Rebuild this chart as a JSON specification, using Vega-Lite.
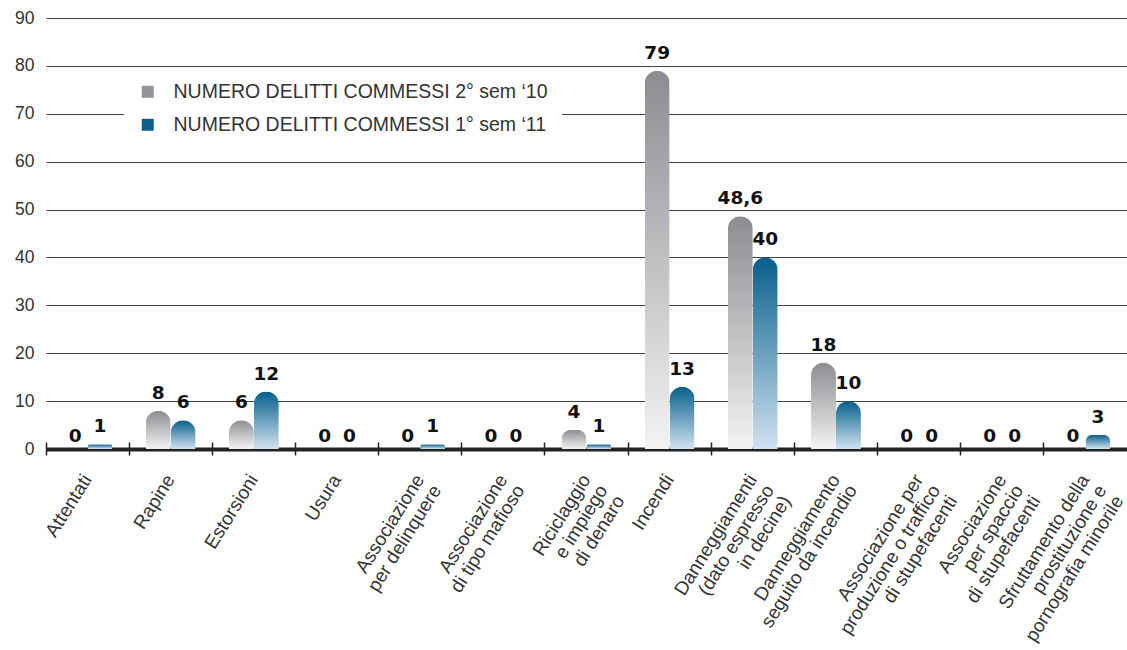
{
  "$schema": "https://vega.github.io/schema/vega-lite/v6.json",
  "width": 1081,
  "height": 431,
  "autosize": {"type": "none"},
  "padding": {"left": 46, "top": 18, "right": 0, "bottom": 201},
  "background": "white",
  "config": {
    "view": {"stroke": null},
    "locale": {"number": {"decimal": ",", "thousands": ".", "grouping": [3], "currency": ["€", ""]}}
  },
  "data": {
    "values": [
      {"cat": "Attentati", "serie": "NUMERO DELITTI COMMESSI 2° sem ‘10", "v": 0},
      {"cat": "Attentati", "serie": "NUMERO DELITTI COMMESSI 1° sem ‘11", "v": 1},
      {"cat": "Rapine", "serie": "NUMERO DELITTI COMMESSI 2° sem ‘10", "v": 8},
      {"cat": "Rapine", "serie": "NUMERO DELITTI COMMESSI 1° sem ‘11", "v": 6},
      {"cat": "Estorsioni", "serie": "NUMERO DELITTI COMMESSI 2° sem ‘10", "v": 6},
      {"cat": "Estorsioni", "serie": "NUMERO DELITTI COMMESSI 1° sem ‘11", "v": 12},
      {"cat": "Usura", "serie": "NUMERO DELITTI COMMESSI 2° sem ‘10", "v": 0},
      {"cat": "Usura", "serie": "NUMERO DELITTI COMMESSI 1° sem ‘11", "v": 0},
      {"cat": "Associazione\nper delinquere", "serie": "NUMERO DELITTI COMMESSI 2° sem ‘10", "v": 0},
      {"cat": "Associazione\nper delinquere", "serie": "NUMERO DELITTI COMMESSI 1° sem ‘11", "v": 1},
      {"cat": "Associazione\ndi tipo mafioso", "serie": "NUMERO DELITTI COMMESSI 2° sem ‘10", "v": 0},
      {"cat": "Associazione\ndi tipo mafioso", "serie": "NUMERO DELITTI COMMESSI 1° sem ‘11", "v": 0},
      {"cat": "Riciclaggio\ne impiego\ndi denaro", "serie": "NUMERO DELITTI COMMESSI 2° sem ‘10", "v": 4},
      {"cat": "Riciclaggio\ne impiego\ndi denaro", "serie": "NUMERO DELITTI COMMESSI 1° sem ‘11", "v": 1},
      {"cat": "Incendi", "serie": "NUMERO DELITTI COMMESSI 2° sem ‘10", "v": 79},
      {"cat": "Incendi", "serie": "NUMERO DELITTI COMMESSI 1° sem ‘11", "v": 13},
      {"cat": "Danneggiamenti\n(dato espresso\nin decine)", "serie": "NUMERO DELITTI COMMESSI 2° sem ‘10", "v": 48.6},
      {"cat": "Danneggiamenti\n(dato espresso\nin decine)", "serie": "NUMERO DELITTI COMMESSI 1° sem ‘11", "v": 40},
      {"cat": "Danneggiamento\nseguito da incendio", "serie": "NUMERO DELITTI COMMESSI 2° sem ‘10", "v": 18},
      {"cat": "Danneggiamento\nseguito da incendio", "serie": "NUMERO DELITTI COMMESSI 1° sem ‘11", "v": 10},
      {"cat": "Associazione per\nproduzione o traffico\ndi stupefacenti", "serie": "NUMERO DELITTI COMMESSI 2° sem ‘10", "v": 0},
      {"cat": "Associazione per\nproduzione o traffico\ndi stupefacenti", "serie": "NUMERO DELITTI COMMESSI 1° sem ‘11", "v": 0},
      {"cat": "Associazione\nper spaccio\ndi stupefacenti", "serie": "NUMERO DELITTI COMMESSI 2° sem ‘10", "v": 0},
      {"cat": "Associazione\nper spaccio\ndi stupefacenti", "serie": "NUMERO DELITTI COMMESSI 1° sem ‘11", "v": 0},
      {"cat": "Sfruttamento della\nprostituzione e\npornografia minorile", "serie": "NUMERO DELITTI COMMESSI 2° sem ‘10", "v": 0},
      {"cat": "Sfruttamento della\nprostituzione e\npornografia minorile", "serie": "NUMERO DELITTI COMMESSI 1° sem ‘11", "v": 3}
    ]
  },
  "encoding": {
    "x": {"field": "cat", "type": "nominal", "sort": null, "scale": {"paddingInner": 0, "paddingOuter": 0}},
    "xOffset": {"field": "serie", "type": "nominal", "sort": null, "scale": {"domain": ["NUMERO DELITTI COMMESSI 2° sem ‘10", "NUMERO DELITTI COMMESSI 1° sem ‘11"], "paddingInner": 0, "paddingOuter": 0.667}},
    "y": {"field": "v", "type": "quantitative", "scale": {"domain": [0, 90], "nice": false}}
  },
  "layer": [
    {
      "transform": [{"filter": "datum.serie == 'NUMERO DELITTI COMMESSI 2° sem ‘10'"}],
      "mark": {"type": "bar", "cornerRadiusTopLeft": 12.5, "cornerRadiusTopRight": 12.5,
        "color": {"gradient": "linear", "x1": 0, "y1": 0, "x2": 0, "y2": 1, "stops": [{"offset": 0, "color": "#8c8d91"}, {"offset": 1, "color": "#f3f3f4"}]}},
      "encoding": {
        "x": {"field": "cat", "type": "nominal", "sort": null, "title": null,
          "axis": {"orient": "bottom", "labelAngle": -58, "labelAlign": "right", "labelBaseline": "top", "labelPadding": 22, "labelOffset": -8, "ticks": false, "tickSize": 0,
            "labelExpr": "split(datum.label, '\\n')", "labelFont": "Liberation Sans", "labelFontSize": 19, "labelColor": "#333333", "labelLineHeight": 20,
            "domain": true, "domainColor": "#222222", "domainWidth": 4, "grid": false, "labelLimit": 0}},
        "y": {"field": "v", "type": "quantitative", "title": null,
          "axis": {"values": [0, 10, 20, 30, 40, 50, 60, 70, 80, 90], "domain": false, "ticks": false, "grid": true, "gridColor": "#444444", "gridWidth": 1,
            "labelFont": "Liberation Sans", "labelFontSize": 17.5, "labelColor": "#333333", "labelPadding": 12}}
      }
    },
    {
      "transform": [{"filter": "datum.serie == 'NUMERO DELITTI COMMESSI 1° sem ‘11'"}],
      "mark": {"type": "bar", "cornerRadiusTopLeft": 12.5, "cornerRadiusTopRight": 12.5,
        "color": {"gradient": "linear", "x1": 0, "y1": 0, "x2": 0, "y2": 1, "stops": [{"offset": 0, "color": "#075f8b"}, {"offset": 1, "color": "#d0e2f0"}]}},
      "encoding": {"x": {"field": "cat", "type": "nominal", "sort": null, "axis": null}}
    },
    {
      "transform": [{"filter": "datum.v != 0"}],
      "mark": {"type": "text", "font": "DejaVu Sans", "fontWeight": "bold", "fontSize": 18.5, "color": "#111111", "baseline": "alphabetic", "dy": -12},
      "encoding": {"x": {"field": "cat", "type": "nominal", "sort": null, "axis": null}, "text": {"field": "v", "type": "quantitative", "format": "~g"}}
    },
    {
      "transform": [{"filter": "datum.v == 0"}],
      "mark": {"type": "text", "font": "DejaVu Sans", "fontWeight": "bold", "fontSize": 18.5, "color": "#111111", "baseline": "alphabetic", "dy": -7},
      "encoding": {"x": {"field": "cat", "type": "nominal", "sort": null, "axis": null}, "text": {"field": "v", "type": "quantitative", "format": "~g"}}
    },
    {
      "mark": {"type": "square", "opacity": 0},
      "encoding": {
        "x": {"field": "cat", "type": "nominal", "sort": null, "title": null,
          "axis": {"orient": "bottom", "bandPosition": 0, "labels": false, "domain": false, "grid": false, "ticks": true, "tickSize": 13, "tickWidth": 1.5, "tickColor": "#222222", "offset": -7}},
        "color": {"field": "serie", "type": "nominal", "sort": null,
          "scale": {"domain": ["NUMERO DELITTI COMMESSI 2° sem ‘10", "NUMERO DELITTI COMMESSI 1° sem ‘11"], "range": ["#939598", "#0b5f8a"]},
          "legend": {"orient": "none", "legendX": 78, "legendY": 50, "title": null, "fillColor": "white", "padding": 14,
            "symbolType": "square", "symbolSize": 144, "symbolOpacity": 1, "symbolStrokeWidth": 0,
            "labelFont": "Liberation Sans", "labelFontSize": 19.5, "labelColor": "#333333", "labelOffset": 16, "rowPadding": 12, "labelLimit": 0}}
      }
    }
  ],
  "resolve": {"axis": {"x": "independent"}}
}
